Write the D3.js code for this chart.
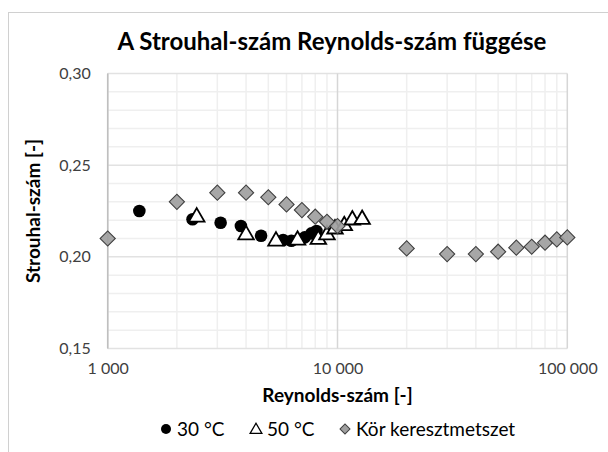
<!DOCTYPE html>
<html><head><meta charset="utf-8">
<script src="https://cdn.jsdelivr.net/npm/d3@7"></script>
<style>body{margin:0;background:#fff}svg{display:block}text{font-family:Lato,"Open Sans",sans-serif}</style>
</head><body><svg id="c" width="608" height="452"></svg>
<script>
// Data
const re30 = [1373, 2340, 3100, 3800, 4650, 5800, 6300, 7200, 7700, 8100];
const st30 = [0.2250, 0.2205, 0.2186, 0.2168, 0.2115, 0.2092, 0.2088, 0.2106, 0.2128, 0.2141];
const re50 = [2440, 4000, 5400, 6700, 8250, 9000, 9750, 10700, 11600, 12800];
const st50 = [0.2225, 0.2128, 0.2094, 0.2099, 0.2103, 0.2128, 0.2160, 0.2178, 0.2209, 0.2212];
const reKor = [1000, 2000, 3000, 4000, 5000, 6000, 7000, 8000, 9000, 10000, 20000, 30000, 40000, 50000, 60000, 70000, 80000, 90000, 100000];
const stKor = [0.210, 0.230, 0.235, 0.235, 0.2325, 0.2286, 0.2255, 0.2219, 0.2191, 0.2168, 0.2046, 0.2015, 0.2015, 0.2028, 0.2050, 0.2055, 0.2077, 0.2095, 0.2106];
const xTicks = [1000, 10000, 100000];
const yTicks = [0.15, 0.20, 0.25, 0.30];
const legendLabels = ["30 °C", "50 °C", "Kör keresztmetszet"];
const title = "A Strouhal-szám Reynolds-szám függése";
const xTitle = "Reynolds-szám [-]";
const yTitle = "Strouhal-szám [-]";

const svg = d3.select("#c");
const L = 107.7, R = 567.3, T = 73.5, B = 348.5;
const x = d3.scaleLog().domain([1000, 100000]).range([L, R]);
const y = d3.scaleLinear().domain([0.15, 0.30]).range([B, T]);

// chart border
svg.append("rect").attr("x", 8.5).attr("y", 12.5).attr("width", 620).attr("height", 460)
  .attr("fill", "none").attr("stroke", "#d0d0d0").attr("stroke-width", 1);

// minor grid
const g = svg.append("g");
const minorX = [];
for (let d = 1000; d < 100000; d *= 10) for (let k = 2; k <= 9; k++) minorX.push(d * k);
g.selectAll(".mx").data(minorX).join("line")
  .attr("x1", d => x(d)).attr("x2", d => x(d)).attr("y1", T).attr("y2", B)
  .attr("stroke", "#efefef").attr("stroke-width", 1.5);
const minorY = d3.range(16, 30).map(v => v / 100).filter(v => Math.round(v * 100) % 5 !== 0);
g.selectAll(".my").data(minorY).join("line")
  .attr("x1", L).attr("x2", R).attr("y1", d => y(d)).attr("y2", d => y(d))
  .attr("stroke", "#efefef").attr("stroke-width", 1.5);
// major grid
g.selectAll(".My").data(yTicks).join("line")
  .attr("x1", L).attr("x2", R).attr("y1", d => y(d)).attr("y2", d => y(d))
  .attr("stroke", "#e2e2e2").attr("stroke-width", 1.5);
g.selectAll(".Mx").data(xTicks).join("line")
  .attr("x1", d => x(d)).attr("x2", d => x(d)).attr("y1", T).attr("y2", B)
  .attr("stroke", "#d6d6d6").attr("stroke-width", 1.5);
// left axis line
g.append("line").attr("x1", L).attr("x2", L).attr("y1", T).attr("y2", B)
  .attr("stroke", "#bfbfbf").attr("stroke-width", 1.5);

// axes text
const fmtX = d => d3.format(",")(d).replace(/,/g, " ");
const fmtY = d => d3.format(".2f")(d).replace(".", ",");
const xa = svg.append("g").attr("transform", `translate(0,${B})`)
  .call(d3.axisBottom(x).tickValues(xTicks).tickFormat(fmtX).tickSize(0).tickPadding(14));
xa.select(".domain").remove();
xa.selectAll("text").attr("font-size", 16).attr("fill", "#404040").attr("font-family", "Lato");
const ya = svg.append("g").attr("transform", `translate(${L},0)`)
  .call(d3.axisLeft(y).tickValues(yTicks).tickFormat(fmtY).tickSize(0).tickPadding(17));
ya.select(".domain").remove();
ya.selectAll("text").attr("font-size", 16).attr("fill", "#404040").attr("font-family", "Lato");

// titles
svg.append("text").attr("x", 332).attr("y", 50).attr("text-anchor", "middle")
  .attr("font-size", 24).attr("font-weight", "bold").attr("fill", "#000").text(title);
svg.append("text").attr("x", (L + R) / 2).attr("y", 402).attr("text-anchor", "middle")
  .attr("font-size", 19).attr("font-weight", "bold").attr("fill", "#000").text(xTitle);
svg.append("text").attr("transform", `translate(40,${(T + B) / 2}) rotate(-90)`).attr("text-anchor", "middle")
  .attr("font-size", 19).attr("font-weight", "bold").attr("fill", "#000").text(yTitle);

// series
const d30 = re30.map((r, i) => [r, st30[i]]);
const d50 = re50.map((r, i) => [r, st50[i]]);
const dK = reKor.map((r, i) => [r, stKor[i]]);
const tri = d3.symbol().type(d3.symbolTriangle).size(105);
const dia = d3.symbol().type(d3.symbolSquare).size(115);

svg.append("g").selectAll("circle").data(d30).join("circle")
  .attr("cx", d => x(d[0])).attr("cy", d => y(d[1])).attr("r", 6.3).attr("fill", "#000");
svg.append("g").selectAll("path").data(d50).join("path")
  .attr("d", tri).attr("transform", d => `translate(${x(d[0])},${y(d[1]) + 1.5})`)
  .attr("fill", "#fff").attr("stroke", "#000").attr("stroke-width", 1.8).attr("stroke-linejoin", "miter");
svg.append("g").selectAll("path").data(dK).join("path")
  .attr("d", dia).attr("transform", d => `translate(${x(d[0])},${y(d[1])}) rotate(45)`)
  .attr("fill", "#a0a0a0").attr("fill-opacity", 0.92).attr("stroke", "#404040").attr("stroke-width", 1.1);

// legend
const lg = svg.append("g").attr("transform", "translate(0,429)");
const items = [
  {x: 166, type: "circle"},
  {x: 256, type: "tri"},
  {x: 345, type: "dia"}
];
items.forEach((it, i) => {
  const gg = lg.append("g").attr("transform", `translate(${it.x},0)`);
  if (it.type === "circle") gg.append("circle").attr("r", 5).attr("fill", "#000");
  if (it.type === "tri") gg.append("path").attr("d", d3.symbol().type(d3.symbolTriangle).size(60)).attr("transform", "translate(0,1)")
    .attr("fill", "#fff").attr("stroke", "#000").attr("stroke-width", 1.3);
  if (it.type === "dia") gg.append("path").attr("d", d3.symbol().type(d3.symbolSquare).size(50)).attr("transform", "rotate(45)")
    .attr("fill", "#a0a0a0").attr("stroke", "#404040").attr("stroke-width", 1);
  gg.append("text").attr("x", 11).attr("dy", "0.35em").attr("font-size", 19).attr("fill", "#000").text(legendLabels[i]);
});
</script></body></html>
